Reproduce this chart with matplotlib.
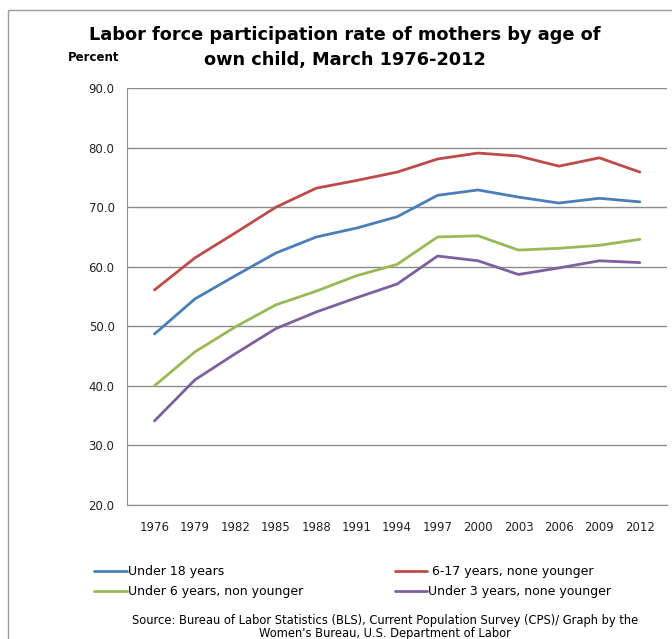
import matplotlib.pyplot as plt
from matplotlib.patches import Rectangle

years = ["1976", "1979", "1982", "1985", "1988", "1991", "1994",
         "1997", "2000", "2003", "2006", "2009", "2012"]

under18 = [48.7, 54.6, 58.5, 62.3, 65.0, 66.5, 68.4, 72.0, 72.9, 71.7, 70.7, 71.5, 70.9]
age6_17 = [56.1, 61.5, 65.7, 70.0, 73.2, 74.5, 75.9, 78.1, 79.1, 78.6, 76.9, 78.3, 75.9]
under6 = [40.0, 45.7, 49.9, 53.6, 55.9, 58.5, 60.4, 65.0, 65.2, 62.8, 63.1, 63.6, 64.6]
under3 = [34.1, 41.0, 45.4, 49.6, 52.4, 54.8, 57.1, 61.8, 61.0, 58.7, 59.8, 61.0, 60.7]

labels = ["Under 18 years", "Under 6 years, non younger",
          " 6-17 years, none younger", "Under 3 years, none younger"]
colors = ["#4A7EBB", "#98B954", "#BE4B48", "#7D60A0"]

fig = plt.figure(figsize=(6.72, 6.39), dpi=100)
ax = fig.add_axes([0.189, 0.210, 0.804, 0.652])

x = range(len(years))
series = [under18, under6, age6_17, under3]
lines = []
for vals, c in zip(series, colors):
    ln, = ax.plot(x, vals, color=c, lw=2.0, solid_capstyle="round")
    lines.append(ln)

ax.set_xlim(-0.68, len(years) - 0.32)
ax.set_ylim(20, 90)
ax.set_yticks(range(20, 91, 10))
ax.set_yticklabels(["%.1f" % v for v in range(20, 91, 10)])
ax.set_xticks(list(x))
ax.set_xticklabels(years)
ax.tick_params(length=0, labelsize=8.5, colors="#222222", pad=9)
ax.tick_params(axis="x", pad=12)
ax.grid(axis="y", color="#8c8c8c", lw=1)
ax.set_axisbelow(True)
for s in ["top", "right"]:
    ax.spines[s].set_visible(False)
for s in ["left", "bottom"]:
    ax.spines[s].set_color("#8c8c8c")

fig.text(0.513, 0.945, "Labor force participation rate of mothers by age of",
         ha="center", va="center", fontsize=12.8, fontweight="bold")
fig.text(0.513, 0.906, "own child, March 1976-2012",
         ha="center", va="center", fontsize=12.8, fontweight="bold")
fig.text(0.14, 0.910, "Percent", ha="center", va="center",
         fontsize=8.5, fontweight="bold")

fig.legend(lines, labels, ncol=2, loc="center", bbox_to_anchor=(0.525, 0.09),
           frameon=False, fontsize=9, handlelength=2.6, handletextpad=0.1,
           columnspacing=7.3, labelspacing=0.55)

fig.text(0.573, 0.029, "Source: Bureau of Labor Statistics (BLS), Current Population Survey (CPS)/ Graph by the",
         ha="center", va="center", fontsize=8.3)
fig.text(0.573, 0.008, "Women's Bureau, U.S. Department of Labor",
         ha="center", va="center", fontsize=8.3)

fig.patches.append(Rectangle((0.012, -0.05), 1.2, 1.035, transform=fig.transFigure,
                             fill=False, edgecolor="#9a9a9a", lw=1))

fig.savefig("out.png", dpi=100)
